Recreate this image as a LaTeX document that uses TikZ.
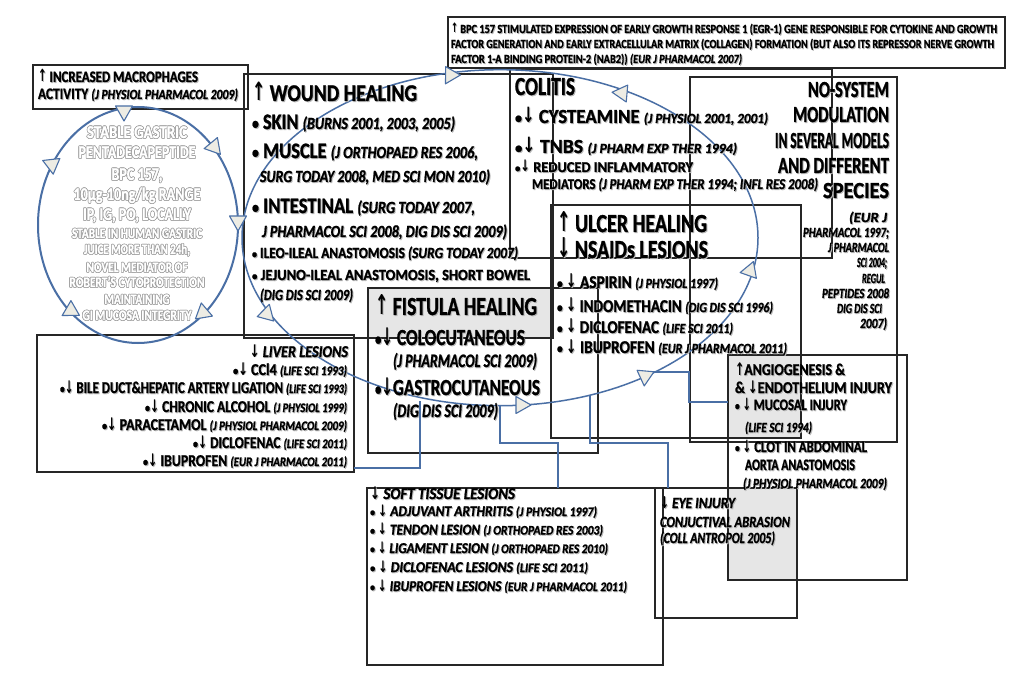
\documentclass[tikz,border=0pt]{standalone}
\usepackage{fontspec}
\setmainfont{Carlito}[BoldFeatures={FakeBold=1.2},BoldItalicFeatures={FakeBold=1.2}]
\newfontfamily\arr{DejaVu Sans}
\usepackage{graphicx}
\usetikzlibrary{shapes.geometric}
\definecolor{lb}{HTML}{4A6FA5}
\definecolor{gf}{HTML}{E6E6E6}
\definecolor{trif}{HTML}{EDECE4}
\newcommand\fs[1]{\fontsize{#1}{#1}\selectfont}
\newcommand\ua{\smash{\scalebox{0.8}[1.05]{\arr\bfseries\char"2191}}}
\newcommand\da{\smash{\scalebox{0.8}[1.05]{\arr\bfseries\char"2193}}}
\newcommand\bl{\scalebox{0.75}{•}}
% text line with drop shadow: name, anchor, x, y, width, text
\newcommand\Lx[6]{%
 \node[tl,anchor=#2,text=black!28,xshift=1pt,yshift=-1pt] at (#3,#4) {\resizebox{#5pt}{\height}{#6}};
 \node[tl,anchor=#2] (#1) at (#3,#4) {\resizebox{#5pt}{\height}{#6}};}
% outlined white text: name, x, y, width, text
\newcommand\Ox[5]{%
 \foreach \dx/\dy in {0.7/0,-0.7/0,0/0.7,0/-0.7,0.5/0.5,-0.5/-0.5,0.5/-0.5,-0.5/0.5}{%
   \node[tl,anchor=base,text=gray!75,xshift=\dx pt,yshift=\dy pt] at (#2,#3) {\resizebox{#4pt}{\height}{#5}};}
 \node[tl,anchor=base,text=white] (#1) at (#2,#3) {\resizebox{#4pt}{\height}{#5}};}
% box: name, x1, y1, x2, y2
\newcommand\Bx[5]{\node[box,minimum width=#4pt-#2pt,minimum height=#5pt-#3pt] (#1) at (#2,#3) {};}
% triangle arrowhead: x, y, screen angle
\newcommand\Tri[3]{\draw[tri,shift={(#1,#2)},rotate=-#3] (9,0) -- (-6,8.5) -- (-6,-8.5) -- cycle;}
\begin{document}
\begin{tikzpicture}[x=1pt,y=-1pt,
  tl/.style={inner sep=0pt,outer sep=0pt,font=\bfseries},
  box/.style={draw=black!85,line width=1.1pt,inner sep=0pt,outer sep=0pt,anchor=north west},
  conn/.style={draw=lb,line width=1.3pt},
  tri/.style={draw=lb,fill=trif,line width=1.1pt,line join=round}]
\useasboundingbox[fill=white] (0,0) rectangle (1022,684);
% grey fills (overlaps of boxes)
\fill[gf] (368,288) rectangle (553,338);
\fill[gf] (728,355) rectangle (801,438);
\fill[gf] (728,488) rectangle (797,580);
% boxes
\Bx{topbox}{448}{17}{1005}{68}
\Bx{mac}{33}{65}{248}{109}
\Bx{wound}{244}{74}{553}{338}
\Bx{colitis}{510}{69}{832}{258}
\Bx{nosys}{690}{77}{897}{442}
\Bx{ulcer}{551}{205}{801}{438}
\Bx{fist}{368}{288}{598}{453}
\Bx{liver}{37}{335}{354}{472}
\Bx{angio}{728}{355}{907}{580}
\Bx{eye}{655}{488}{797}{618}
\Bx{soft}{367}{488}{663}{665}
% ellipses
\node[draw=lb,line width=2pt,ellipse,minimum width=200pt,minimum height=236pt,inner sep=0pt] (smallE) at (138,225) {};
\node[draw=lb,line width=1.5pt,ellipse,minimum width=516pt,minimum height=336pt,inner sep=0pt] (bigE) at (500,237.7) {};
% top box
\Lx{t1}{base west}{451}{33}{546}{\fs{12.4}\ua\ BPC 157  STIMULATED EXPRESSION OF EARLY GROWTH RESPONSE 1 (EGR-1) GENE RESPONSIBLE FOR CYTOKINE AND GROWTH}
\Lx{t2}{base west}{451}{48}{543}{\fs{12.4}FACTOR GENERATION AND EARLY EXTRACELLULAR MATRIX (COLLAGEN) FORMATION (BUT ALSO ITS REPRESSOR NERVE GROWTH}
\Lx{t3}{base west}{451}{63}{291}{\fs{12.4}FACTOR 1-A BINDING PROTEIN-2 (NAB2)) {\itshape (EUR J PHARMACOL 2007)}}
% macrophages
\Lx{m1}{base west}{38}{82}{160}{\fs{16}\ua\ INCREASED MACROPHAGES}
\Lx{m2}{base west}{38}{99}{200}{\fs{16}ACTIVITY {\fs{14}\itshape (J PHYSIOL PHARMACOL 2009)}}
% ellipse text
\Ox{o1}{137}{138}{100}{\fs{18}STABLE  GASTRIC}
\Ox{o2}{137}{158}{117}{\fs{18}PENTADECAPEPTIDE}
\Ox{o3}{137}{180}{51}{\fs{18}BPC 157,}
\Ox{o4}{137}{200}{127}{\fs{18}10µg-10ng/kg RANGE}
\Ox{o5}{137}{220}{108}{\fs{18}IP, IG, PO, LOCALLY}
\Ox{o6}{137}{238}{130}{\fs{14.5}STABLE IN HUMAN GASTRIC}
\Ox{o7}{137}{254}{106}{\fs{14.5}JUICE MORE THAN 24h,}
\Ox{o8}{137}{272}{101}{\fs{14.5}NOVEL MEDIATOR OF}
\Ox{o9}{137}{287}{135}{\fs{14.5}ROBERT'S  CYTOPROTECTION}
\Ox{o10}{137}{304}{65}{\fs{14.5}MAINTAINING}
\Ox{o11}{137}{320}{109}{\fs{14.5}GI MUCOSA  INTEGRITY}
% wound healing
\Lx{w0}{base west}{252}{101}{165}{\fs{24}\ua\ WOUND HEALING}
\Lx{w1}{base west}{252}{129}{203}{\fs{22}\bl\ SKIN {\fs{17}\itshape (BURNS 2001, 2003, 2005)}}
\Lx{w2}{base west}{252}{158}{226}{\fs{22}\bl\ MUSCLE {\fs{17}\itshape (J ORTHOPAED RES 2006,}}
\Lx{w3}{base west}{260}{182}{230}{\fs{17}\itshape SURG TODAY 2008,  MED SCI MON 2010)}
\Lx{w4}{base west}{252}{213}{223}{\fs{22}\bl\ INTESTINAL {\fs{17}\itshape (SURG TODAY 2007,}}
\Lx{w5}{base west}{262}{237}{245}{\fs{17}\itshape J PHARMACOL SCI 2008, DIG DIS SCI 2009)}
\Lx{w6}{base west}{252}{258}{266}{\fs{15.5}\bl\ ILEO-ILEAL ANASTOMOSIS {\itshape (SURG TODAY 2007)}}
\Lx{w7}{base west}{252}{280}{278}{\fs{15.5}\bl\ JEJUNO-ILEAL ANASTOMOSIS, SHORT BOWEL}
\Lx{w8}{base west}{260}{300}{93}{\fs{15.5}\itshape (DIG DIS SCI 2009)}
% colitis
\Lx{c0}{base west}{515}{95}{60}{\fs{26}COLITIS}
\Lx{c1}{base west}{515}{123}{253}{\fs{20}\bl\da\ CYSTEAMINE {\fs{14}\itshape (J PHYSIOL 2001, 2001)}}
\Lx{c2}{base west}{515}{153}{222}{\fs{20}\bl\da\ TNBS {\fs{14}\itshape (J PHARM EXP THER  1994)}}
\Lx{c3}{base west}{515}{172}{178}{\fs{15}\bl\da\ REDUCED INFLAMMATORY}
\Lx{c4}{base west}{532}{189}{286}{\fs{15}MEDIATORS {\itshape (J PHARM EXP THER 1994; INFL RES 2008)}}
% NO-system
\Lx{n0}{base east}{889}{97}{81}{\fs{23}NO-SYSTEM}
\Lx{n1}{base east}{889}{122}{96}{\fs{23}MODULATION}
\Lx{n2}{base east}{889}{148}{114}{\fs{23}IN SEVERAL MODELS}
\Lx{n3}{base east}{889}{173}{111}{\fs{23}AND  DIFFERENT}
\Lx{n4}{base east}{889}{198}{66}{\fs{23}SPECIES}
\Lx{n5}{base east}{887}{222}{38}{\fs{14}\itshape (EUR J}
\Lx{n6}{base east}{889}{237}{86}{\fs{14}\itshape PHARMACOL 1997;}
\Lx{n7}{base east}{889}{252}{61}{\fs{14}\itshape J PHARMACOL}
\Lx{n8}{base east}{887}{267}{30}{\fs{14}\itshape SCI 2004;}
\Lx{n9}{base east}{885}{283}{23}{\fs{14}\itshape REGUL}
\Lx{n10}{base east}{889}{298}{67}{\fs{14}\itshape PEPTIDES 2008}
\Lx{n11}{base east}{882}{313}{45}{\fs{14}\itshape DIG DIS SCI}
\Lx{n12}{base east}{887}{328}{27}{\fs{14}\itshape 2007)}
% ulcer
\Lx{u0}{base west}{557}{232}{150}{\fs{26}\ua\ ULCER HEALING}
\Lx{u1}{base west}{557}{258}{151}{\fs{26}\da\ NSAIDs LESIONS}
\Lx{u2}{base west}{557}{288}{161}{\fs{18}\bl\ \da\ ASPIRIN {\fs{14}\itshape (J PHYSIOL 1997)}}
\Lx{u3}{base west}{557}{312}{216}{\fs{18}\bl\ \da\ INDOMETHACIN {\fs{14}\itshape (DIG DIS SCI 1996)}}
\Lx{u4}{base west}{557}{333}{176}{\fs{18}\bl\ \da\ DICLOFENAC {\fs{14}\itshape (LIFE SCI 2011)}}
\Lx{u5}{base west}{557}{353}{230}{\fs{18}\bl\ \da\ IBUPROFEN {\fs{14}\itshape (EUR J PHARMACOL 2011)}}
% fistula
\Lx{f0}{base west}{375}{315}{162}{\fs{26}\ua\ FISTULA HEALING}
\Lx{f1}{base west}{375}{345}{150}{\fs{23}\bl\da\ COLOCUTANEOUS}
\Lx{f2}{base west}{393}{367}{144}{\fs{19}\itshape (J PHARMACOL SCI 2009)}
\Lx{f3}{base west}{375}{395}{165}{\fs{23}\bl\da GASTROCUTANEOUS}
\Lx{f4}{base west}{393}{417}{105}{\fs{19}\itshape (DIG DIS SCI 2009)}
% liver
\Lx{l0}{base east}{348}{357}{98}{\fs{16.5}\da\ \itshape LIVER LESIONS}
\Lx{l1}{base east}{347}{375}{114}{\fs{16.5}\bl\da\ CCl4  {\fs{13}\itshape (LIFE SCI 1993)}}
\Lx{l2}{base east}{347}{393}{287}{\fs{16.5}\bl\da\ BILE DUCT\&HEPATIC ARTERY LIGATION {\fs{13}\itshape (LIFE SCI 1993)}}
\Lx{l3}{base east}{347}{412}{202}{\fs{16.5}\bl\da\ CHRONIC ALCOHOL {\fs{13}\itshape (J  PHYSIOL 1999)}}
\Lx{l4}{base east}{347}{430}{245}{\fs{16.5}\bl\da\ PARACETAMOL {\fs{13}\itshape (J PHYSIOL  PHARMACOL 2009)}}
\Lx{l5}{base east}{347}{448}{154}{\fs{16.5}\bl\da\ DICLOFENAC {\fs{13}\itshape (LIFE SCI 2011)}}
\Lx{l6}{base east}{347}{466}{204}{\fs{16.5}\bl\da\ IBUPROFEN  {\fs{13}\itshape (EUR J PHARMACOL 2011)}}
% angiogenesis
\Lx{a0}{base west}{735}{375}{110}{\fs{16.5}\ua ANGIOGENESIS \&}
\Lx{a1}{base west}{735}{393}{157}{\fs{16.5}\& \da ENDOTHELIUM INJURY}
\Lx{a2}{base west}{735}{410}{112}{\fs{16}\bl\ \da\ MUCOSAL INJURY}
\Lx{a3}{base west}{745}{432}{67}{\fs{14}\itshape (LIFE SCI 1994)}
\Lx{a4}{base west}{735}{452}{132}{\fs{16}\bl\ \da\ CLOT IN ABDOMINAL}
\Lx{a5}{base west}{745}{470}{110}{\fs{16}AORTA ANASTOMOSIS}
\Lx{a6}{base west}{743}{488}{144}{\fs{14}\itshape (J PHYSIOL PHARMACOL  2009)}
% eye
\Lx{e0}{base west}{660}{508}{75}{\fs{15.5}\da\ \itshape EYE INJURY}
\Lx{e1}{base west}{660}{527}{130}{\fs{15.5}\itshape CONJUCTIVAL ABRASION}
\Lx{e2}{base west}{660}{543}{115}{\fs{15.5}\itshape (COLL  ANTROPOL  2005)}
% soft tissue
\Lx{s0}{base west}{370}{499}{145}{\fs{16.5}\da\ \itshape SOFT TISSUE  LESIONS}
\Lx{s1}{base west}{370}{516}{227}{\fs{15}\itshape \bl\ \da\ ADJUVANT ARTHRITIS {\fs{13}(J PHYSIOL 1997)}}
\Lx{s2}{base west}{370}{534.5}{233}{\fs{15}\itshape \bl\ \da\ TENDON LESION {\fs{13}(J ORTHOPAED RES 2003)}}
\Lx{s3}{base west}{370}{553}{238}{\fs{15}\itshape \bl\ \da\ LIGAMENT LESION {\fs{13}(J ORTHOPAED RES 2010)}}
\Lx{s4}{base west}{370}{572}{218}{\fs{15}\itshape \bl\ \da\ DICLOFENAC LESIONS {\fs{13}(LIFE SCI 2011)}}
\Lx{s5}{base west}{370}{591}{257}{\fs{15}\itshape \bl\ \da\ IBUPROFEN LESIONS  {\fs{13}(EUR J PHARMACOL 2011)}}
% connectors
\coordinate (k1s) at (420,401);
\coordinate (k1t) at (354,468);
\draw[conn] (k1s) |- (k1t);
\coordinate (k2s) at (500,405);
\coordinate (k2m) at (558,443);
\draw[conn] (k2s) |- (k2m) -- (k2m |- soft.north);
\coordinate (k3s) at (590,395);
\coordinate (k3m) at (668,443);
\draw[conn] (k3s) |- (k3m) -- (k3m |- eye.north);
\coordinate (k4s) at (652,372);
\coordinate (k4m) at (689,402);
\draw[conn] (k4s) -| (k4m) -- (k4m -| angio.west);
% arrowheads on big cycle
\Tri{450}{76}{120}
\Tri{621}{93}{185}
\Tri{749}{271}{170}
\Tri{645}{377}{95}
\Tri{522}{405}{0}
\Tri{267}{313}{285}
% arrowheads on small cycle
\Tri{124}{112}{90}
\Tri{213}{147}{170}
\Tri{51}{164}{203}
\Tri{238}{222}{90}
\Tri{70}{311}{150}
\Tri{204}{313}{20}
\end{tikzpicture}
\end{document}
